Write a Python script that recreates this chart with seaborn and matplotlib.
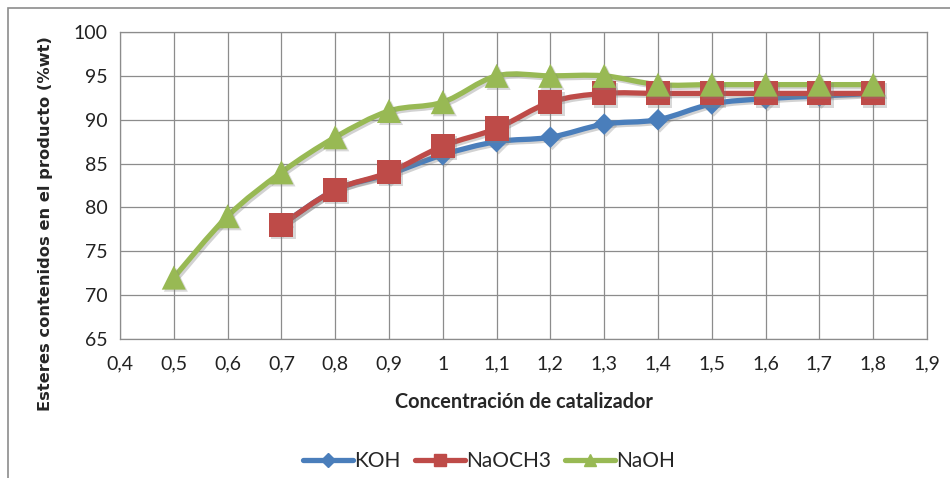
import numpy as np
import pandas as pd
import matplotlib
matplotlib.use("Agg")
import matplotlib.pyplot as plt
import matplotlib.patheffects as pe
from matplotlib.path import Path
from matplotlib.patches import PathPatch, Rectangle
from matplotlib.lines import Line2D
from matplotlib.ticker import FuncFormatter, MultipleLocator
import seaborn as sns

# Concentracion de catalizador vs esteres (%wt)
conc = [0.5, 0.6, 0.7, 0.8, 0.9, 1.0, 1.1, 1.2, 1.3, 1.4, 1.5, 1.6, 1.7, 1.8]
koh = [None, None, 78, 82, 83.8, 86, 87.5, 88, 89.5, 90, 91.8, 92.4, 92.7, 93]
naoch3 = [None, None, 78, 82, 84, 87, 89, 92, 93, 93, 93, 93, 93, 93]
naoh = [72, 79, 84, 88, 91, 92, 95, 95, 95, 94, 94, 94, 94, 94]

series = ["KOH", "NaOCH3", "NaOH"]
colors = {"KOH": "#4A7EBB", "NaOCH3": "#BE4B48", "NaOH": "#98B954"}
markers = {"KOH": "D", "NaOCH3": "s", "NaOH": "^"}
msize = {"KOH": 120, "NaOCH3": 300, "NaOH": 300}

rows = []
for name, vals in zip(series, [koh, naoch3, naoh]):
    for x, y in zip(conc, vals):
        if y is not None:
            rows.append({"conc": x, "val": y, "serie": name})
df = pd.DataFrame(rows)


def smooth_path(xs, ys):
    # bezier suavizado tipo Excel entre los puntos
    pts = np.column_stack([xs, ys])
    verts = [pts[0]]
    codes = [Path.MOVETO]
    n = len(pts)
    for i in range(n - 1):
        p0 = pts[i - 1] if i > 0 else pts[i]
        p1 = pts[i]
        p2 = pts[i + 1]
        p3 = pts[i + 2] if i + 2 < n else pts[i + 1]
        c1 = p1 + (p2 - p0) / 6.0
        c2 = p2 - (p3 - p1) / 6.0
        verts += [c1, c2, p2]
        codes += [Path.CURVE4] * 3
    return Path(verts, codes)


sns.set_style("white")
plt.rcParams["font.family"] = ["Lato", "DejaVu Sans"]

fig = plt.figure(figsize=(9.5, 4.78), dpi=100)
ax = fig.add_axes([120 / 950, 1 - 339 / 478, (927 - 120) / 950, (339 - 32) / 478])

shadow = [pe.SimpleLineShadow(offset=(1.5, -1.5), shadow_color="gray", alpha=0.35), pe.Normal()]
for name in series:
    d = df[df["serie"] == name]
    patch = PathPatch(smooth_path(d["conc"].values, d["val"].values), fill=False,
                      edgecolor=colors[name], lw=3.8, capstyle="round", joinstyle="round",
                      zorder=3)
    patch.set_path_effects(shadow)
    ax.add_patch(patch)
    sns.scatterplot(data=d, x="conc", y="val", marker=markers[name], color=colors[name],
                    s=msize[name], edgecolor="none", ax=ax, zorder=4, legend=False)

for coll in ax.collections:
    coll.set_path_effects([pe.SimplePatchShadow(offset=(1.5, -1.5), shadow_rgbFace="gray",
                                                alpha=0.3), pe.Normal()])

ax.set_xlim(0.4, 1.9)
ax.set_ylim(65, 100)
ax.xaxis.set_major_locator(MultipleLocator(0.1))
ax.yaxis.set_major_locator(MultipleLocator(5))
ax.xaxis.set_major_formatter(FuncFormatter(lambda v, p: ("%g" % round(v, 1)).replace(".", ",")))
ax.grid(True, color="#8C8C8C", lw=0.9)
for sp in ax.spines.values():
    sp.set_color("#8C8C8C")
    sp.set_linewidth(0.9)
    sp.set_visible(True)
ax.tick_params(axis="both", direction="out", length=5, color="#8C8C8C", labelsize=14,
               labelcolor="#222222", pad=4)
ax.tick_params(axis="x", pad=7)

ax.set_xlabel("Concentración de catalizador", fontsize=14.3, fontweight="bold")
ax.xaxis.set_label_coords(0.5, -(402 - 339) / 307, transform=ax.transAxes)
ax.xaxis.label.set_va("center")
ax.set_ylabel("Esteres contenidos en el producto (%wt)", fontsize=11.7, fontweight="bold",
              family="DejaVu Sans")
ax.yaxis.set_label_coords(-(120 - 46) / 807, (339 - 224) / 307)
ax.yaxis.label.set_va("center")

handles = [Line2D([0], [0], color=colors[n], lw=3.8, marker=markers[n],
                  markersize=9 if n != "KOH" else 7) for n in series]
fig.legend(handles, series, loc="center", bbox_to_anchor=(489 / 950, 1 - 461 / 478), ncol=3,
           frameon=False, fontsize=15, handlelength=2.4, handletextpad=0.05, columnspacing=0.7)

fig.add_artist(Rectangle((8 / 950, -0.1), 1.2, 1 - 8 / 478 + 0.1, transform=fig.transFigure,
                         fill=False, edgecolor="#8C8C8C", lw=1.2))

fig.savefig("out.png", dpi=100)
